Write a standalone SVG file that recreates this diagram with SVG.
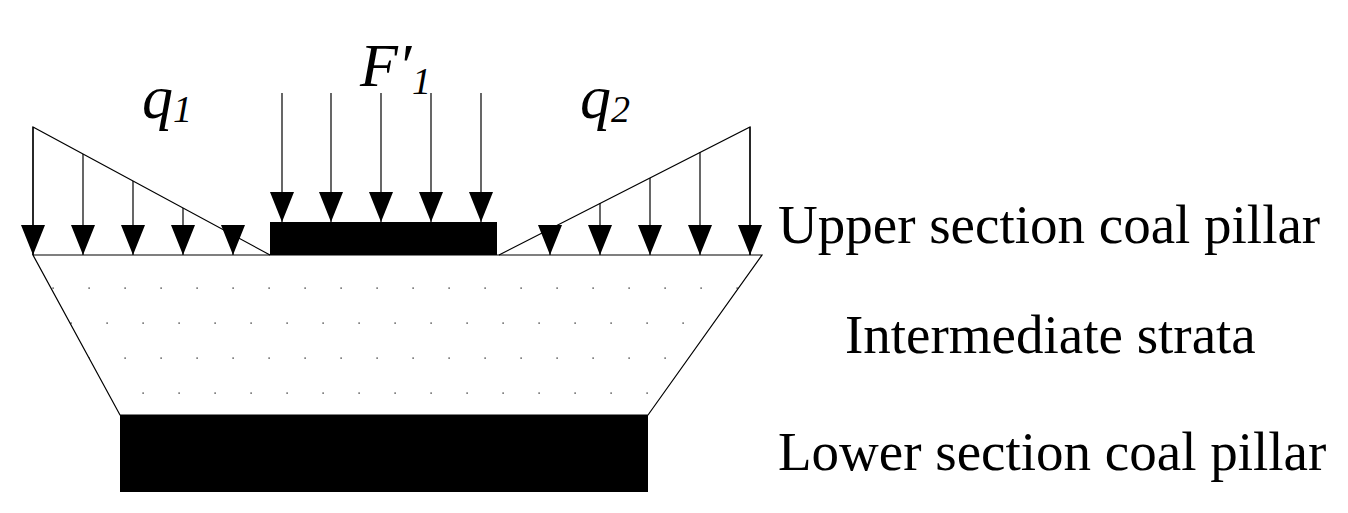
<svg xmlns="http://www.w3.org/2000/svg" width="1348" height="513" viewBox="0 0 1348 513">
<style>
.l{stroke:#000;stroke-width:1.2;fill:none}
.t{font-family:"Liberation Serif",serif;font-size:55px;fill:#000}
.i{font-family:"Liberation Serif",serif;font-style:italic;font-size:62px;fill:#000}
.s{font-size:38px}
</style>
<defs>
<pattern id="dots" width="36" height="70" patternUnits="userSpaceOnUse">
<rect x="16.5" y="7.5" width="1.2" height="1.2" fill="#000"/>
<rect x="34.5" y="42.5" width="1.2" height="1.2" fill="#000"/>
</pattern>
<marker id="ah" markerWidth="30" markerHeight="24" refX="30" refY="12" orient="auto" markerUnits="userSpaceOnUse" viewBox="0 0 30 24">
<path d="M0 0 L30 12 L0 24 Z" fill="#000"/>
</marker>
</defs>
<rect width="1348" height="513" fill="#fff"/>
<g id="strata"><polygon points="33,255 762,255 648,415 120,415" fill="url(#dots)" stroke="#000" stroke-width="1.2"/></g>
<g id="lower-pillar"><rect x="120" y="415" width="528" height="77" fill="#000"/></g>
<g id="upper-pillar"><rect x="270" y="222" width="227" height="33" fill="#000"/></g>
<g id="q1-load"><polyline class="l" points="33,255 33,127 270,255"/></g>
<g id="q2-load"><polyline class="l" points="499,255 750,127 750,255"/></g>
<g id="connectors" class="l">
<line x1="33" y1="127" x2="33" y2="255" marker-end="url(#ah)"/>
<line x1="83" y1="154" x2="83" y2="255" marker-end="url(#ah)"/>
<line x1="133" y1="181" x2="133" y2="255" marker-end="url(#ah)"/>
<line x1="183" y1="208" x2="183" y2="255" marker-end="url(#ah)"/>
<line x1="233" y1="235" x2="233" y2="255" marker-end="url(#ah)"/>
<line x1="282" y1="93" x2="282" y2="222" marker-end="url(#ah)"/>
<line x1="331" y1="93" x2="331" y2="222" marker-end="url(#ah)"/>
<line x1="381" y1="93" x2="381" y2="222" marker-end="url(#ah)"/>
<line x1="431" y1="93" x2="431" y2="222" marker-end="url(#ah)"/>
<line x1="481" y1="93" x2="481" y2="222" marker-end="url(#ah)"/>
<line x1="550" y1="229" x2="550" y2="255" marker-end="url(#ah)"/>
<line x1="600" y1="203" x2="600" y2="255" marker-end="url(#ah)"/>
<line x1="650" y1="178" x2="650" y2="255" marker-end="url(#ah)"/>
<line x1="700" y1="152" x2="700" y2="255" marker-end="url(#ah)"/>
<line x1="750" y1="127" x2="750" y2="255" marker-end="url(#ah)"/>
</g>
<text class="i" x="360" y="86">F′</text>
<text class="i s" x="412" y="94">1</text>
<text class="i" x="142" y="118">q<tspan class="s" dy="4">1</tspan></text>
<text class="i" x="580" y="118">q<tspan class="s" dy="4">2</tspan></text>
<text class="t" x="778" y="243">Upper section coal pillar</text>
<text class="t" x="845" y="353">Intermediate strata</text>
<text class="t" x="778" y="470">Lower section coal pillar</text>
</svg>
